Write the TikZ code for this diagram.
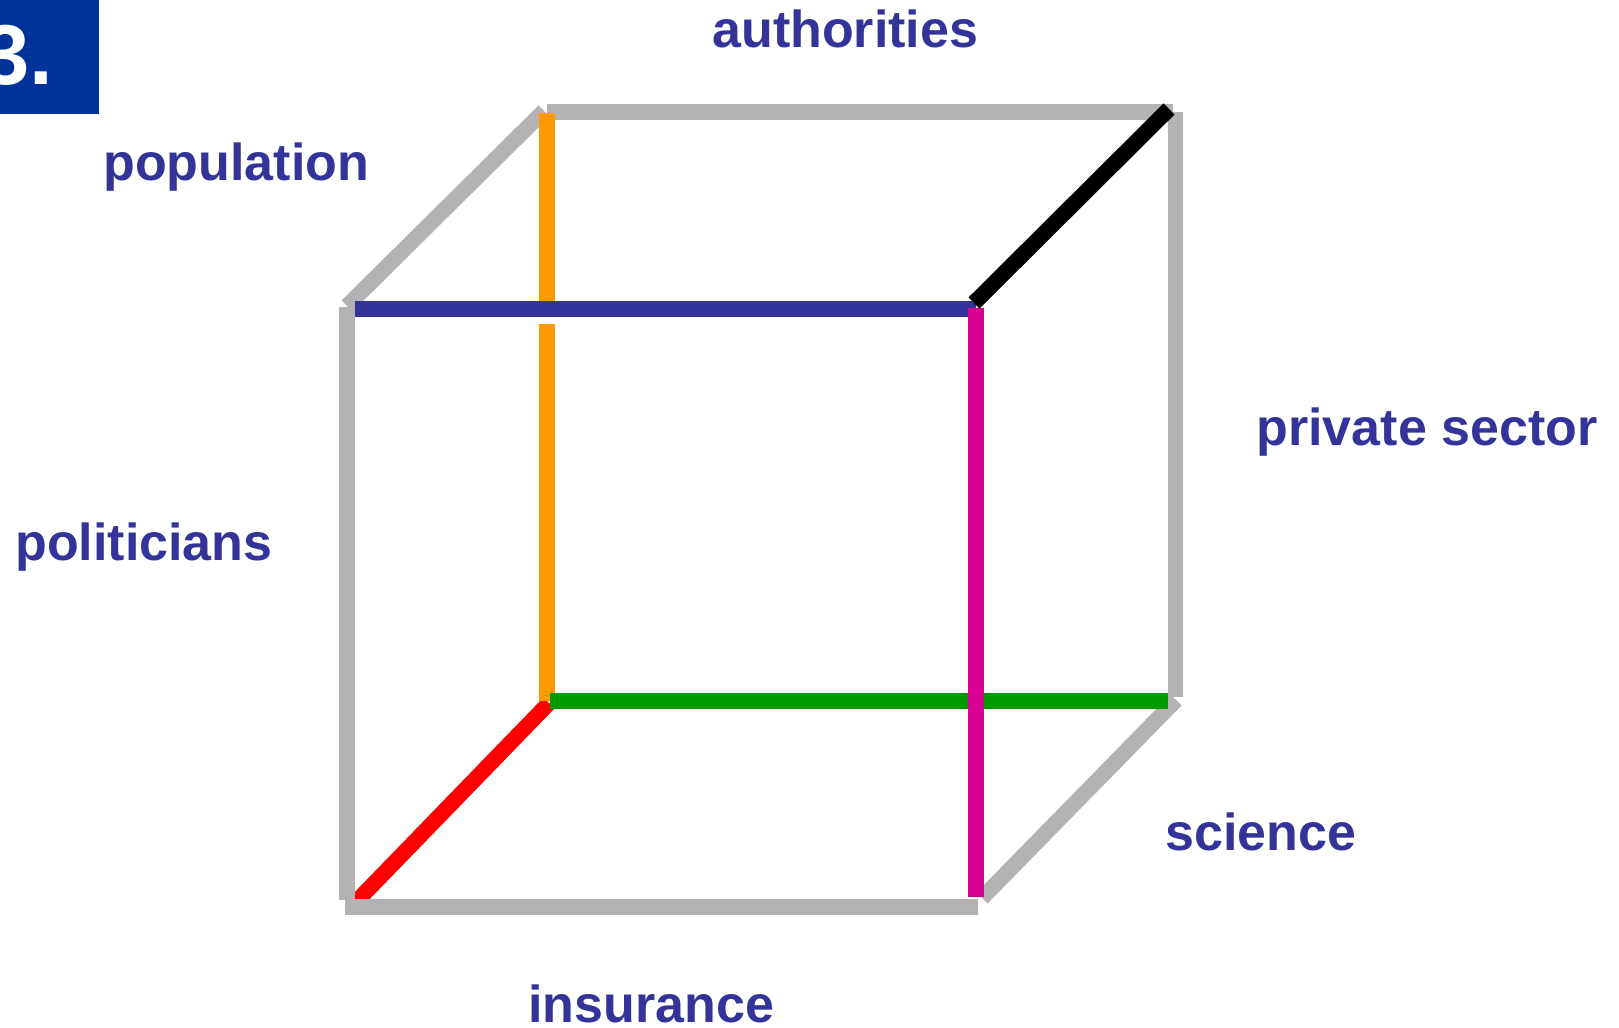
\documentclass[tikz,border=0pt]{standalone}
\usepackage{fontspec}
\setmainfont{Liberation Sans}
\definecolor{lblue}{HTML}{333399}
\definecolor{boxblue}{HTML}{003399}
\definecolor{cgray}{HTML}{B3B3B3}
\definecolor{corange}{HTML}{FF9900}
\definecolor{cmagenta}{HTML}{D60093}
\definecolor{cgreen}{HTML}{009900}
\definecolor{cred}{HTML}{FF0000}
\tikzset{
  edge/.style={line width=7.8pt, line cap=butt},
  lbl/.style={text=lblue, font=\fontsize{26}{30}\selectfont\bfseries, inner sep=0pt, anchor=base west},
}
\begin{document}
\begin{tikzpicture}[x=0.5pt,y=-0.5pt]
\useasboundingbox (0,0) rectangle (1619,1028);
% number box
\begin{scope}
\clip (0,0) rectangle (99,114);
\fill[boxblue] (0,0) rectangle (99,114);
\node[text=white, font=\fontsize{42.5}{48}\selectfont\bfseries, inner sep=0pt, anchor=base west] (num) at (-18,84) {3.};
\end{scope}
% cube end points
\coordinate (lvA) at (347,307);  \coordinate (lvB) at (347,900);
\coordinate (bhA) at (345,907);  \coordinate (bhB) at (978,907);
\coordinate (fhA) at (355,309);  \coordinate (fhB) at (976,309);
\coordinate (mvA) at (976,308);  \coordinate (mvB) at (976,897);
\coordinate (thA) at (547,112);  \coordinate (thB) at (1173,112);
\coordinate (rvA) at (1175.5,112); \coordinate (rvB) at (1175.5,697);
\coordinate (ovA) at (547,113);  \coordinate (ovM) at (547,317);
\coordinate (ovN) at (547,324);  \coordinate (ovB) at (547,701);
\coordinate (ghA) at (550,701);  \coordinate (ghB) at (1168,701);
\coordinate (d1A) at (347,306);  \coordinate (d1B) at (544,111);
\coordinate (d2A) at (974,303);  \coordinate (d2B) at (1169,109);
\coordinate (d3A) at (356,902);  \coordinate (d3B) at (549,703);
\coordinate (d4A) at (1176,700); \coordinate (d4B) at (982,898);
% edges
\draw[edge, cred] (d3A) -- (d3B);
\draw[edge, cgray] (lvA) -- (lvB);
\draw[edge, cgray] (bhA) -- (bhB);
\draw[edge, cgray] (thA) -- (thB);
\draw[edge, cgray] (rvA) -- (rvB);
\draw[edge, cgray] (d1A) -- (d1B);
\draw[edge, cgray] (d4A) -- (d4B);
\draw[edge, corange] (ovA) -- (ovM);
\draw[edge, corange] (ovN) -- (ovB);
\draw[edge, lblue] (fhA) -- (fhB);
\draw[edge, cgreen] (ghA) -- (ghB);
\draw[edge, cmagenta] (mvA) -- (mvB);
\draw[edge, black] (d2A) -- (d2B);
% labels
\node[lbl] (auth) at (712,47) {authorities};
\node[lbl] (pop) at (103,180) {population};
\node[lbl] (priv) at (1256,445) {private sector};
\node[lbl] (pol) at (15,560) {politicians};
\node[lbl] (sci) at (1165,850) {science};
\node[lbl] (ins) at (528,1022) {insurance};
\end{tikzpicture}
\end{document}
